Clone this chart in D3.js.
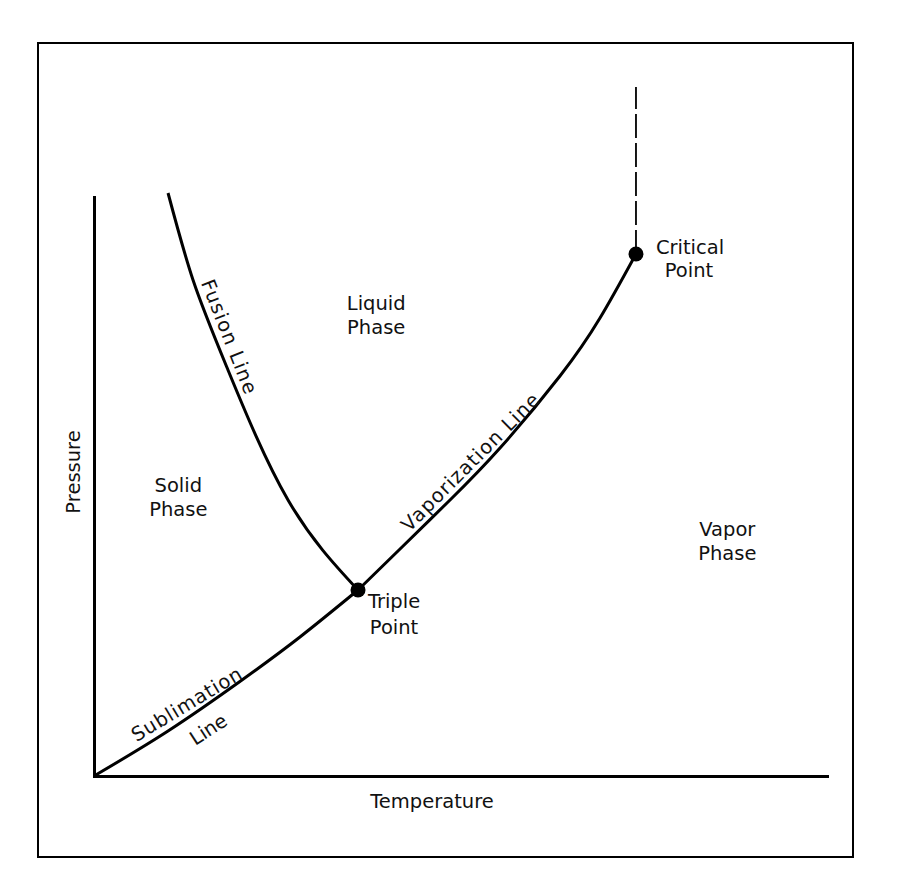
<!DOCTYPE html>
<html>
<head>
<meta charset="utf-8">
<script src="https://cdn.jsdelivr.net/npm/d3@7"></script>
<style>
  html, body { margin: 0; padding: 0; background: #ffffff; }
  svg { display: block; }
  text { font-family: "DejaVu Sans", sans-serif; fill: #111; }
</style>
</head>
<body>
<svg id="chart" width="908" height="882"></svg>
<script>
// ---- Data (arbitrary temperature / pressure units, 0..100 on each axis) ----
const sublimationLine  = [[0, 0], [10.10, 7.77], [20.19, 16.58], [28.10, 24.01], [36.02, 32.12]];
const fusionLine       = [[36.02, 32.12], [26.47, 47.67], [18.28, 70.12], [13.51, 85.66], [10.10, 100.69]];
const vaporizationLine = [[36.02, 32.12], [41.75, 39.21], [48.57, 47.67], [55.39, 56.65], [63.57, 69.08], [69.03, 79.10], [73.94, 90.16]];
const supercriticalLine = [[73.94, 90.16], [73.94, 119.0]];
const specialPoints    = [{name: "Triple Point", T: 36.02, P: 32.12}, {name: "Critical Point", T: 73.94, P: 90.16}];
const phaseLabels      = [
  {lines: ["Liquid", "Phase"], T: 38.5, P: 80.5},
  {lines: ["Solid", "Phase"],  T: 11.5, P: 49.0},
  {lines: ["Vapor", "Phase"],  T: 86.4, P: 41.5}
];
const axisTitles = {x: "Temperature", y: "Pressure"};

// ---- Layout ----
const svg = d3.select("#chart");
const x = d3.scaleLinear().domain([0, 100]).range([94, 827]);
const y = d3.scaleLinear().domain([0, 100]).range([776, 197]);

// outer frame
svg.append("rect").attr("x", 38).attr("y", 43).attr("width", 815).attr("height", 814)
  .attr("fill", "#fff").attr("stroke", "#000").attr("stroke-width", 2);

// axes (domain lines only)
const xAxis = svg.append("g").attr("transform", `translate(0,${y(0)})`)
  .call(d3.axisBottom(x).ticks(0).tickSizeOuter(0));
const yAxis = svg.append("g").attr("transform", `translate(${x(0)},0)`)
  .call(d3.axisLeft(y).ticks(0).tickSizeOuter(0));
[xAxis, yAxis].forEach(g => {
  g.selectAll(".tick").remove();
  g.select(".domain").attr("stroke", "#000").attr("stroke-width", 3).attr("stroke-linecap", "square");
});

// curves
const line = d3.line().x(d => x(d[0])).y(d => y(d[1])).curve(d3.curveNatural);
[sublimationLine, fusionLine, vaporizationLine].forEach(data => {
  svg.append("path").datum(data).attr("d", line)
    .attr("fill", "none").attr("stroke", "#000").attr("stroke-width", 3);
});
svg.append("path").datum(supercriticalLine).attr("d", d3.line().x(d => x(d[0])).y(d => y(d[1])))
  .attr("fill", "none").attr("stroke", "#000").attr("stroke-width", 1.8)
  .attr("stroke-dasharray", "24,5");

// points
svg.selectAll("circle.pt").data(specialPoints).enter().append("circle")
  .attr("class", "pt").attr("cx", d => x(d.T)).attr("cy", d => y(d.P)).attr("r", 7.5).attr("fill", "#000");

const fs = 19.5;
// point labels
const tp = specialPoints[0], cp = specialPoints[1];
const tpLabel = svg.append("text").attr("text-anchor", "middle").attr("font-size", fs);
tpLabel.append("tspan").attr("x", x(tp.T) + 36).attr("y", y(tp.P) + 18).text("Triple");
tpLabel.append("tspan").attr("x", x(tp.T) + 36).attr("y", y(tp.P) + 44).text("Point");
const cpLabel = svg.append("text").attr("text-anchor", "middle").attr("font-size", fs);
cpLabel.append("tspan").attr("x", x(cp.T) + 54).attr("y", y(cp.P) + 0).text("Critical");
cpLabel.append("tspan").attr("x", x(cp.T) + 53).attr("y", y(cp.P) + 23).text("Point");

// phase labels
phaseLabels.forEach(p => {
  const t = svg.append("text").attr("text-anchor", "middle").attr("font-size", fs);
  p.lines.forEach((s, i) => {
    t.append("tspan").attr("x", x(p.T)).attr("y", y(p.P) + i * 24).text(s);
  });
});

// rotated line labels (baseline centre, angle, length)
const rot = [
  {text: "Fusion Line", bx: 223, by: 339, angle: 68.5, len: 121},
  {text: "Vaporization Line", bx: 475, by: 467, angle: -45, len: 186},
  {text: "Sublimation", bx: 190, by: 710, angle: -31, len: 125},
  {text: "Line", bx: 212, by: 735, angle: -33, len: 40}
];
rot.forEach(r => {
  svg.append("text").attr("text-anchor", "middle").attr("font-size", fs)
    .attr("transform", `translate(${r.bx},${r.by}) rotate(${r.angle})`)
    .attr("textLength", r.len).attr("lengthAdjust", "spacing")
    .text(r.text);
});

// axis titles
svg.append("text").attr("text-anchor", "middle").attr("font-size", fs)
  .attr("x", 432).attr("y", 808).text(axisTitles.x);
svg.append("text").attr("text-anchor", "middle").attr("font-size", fs)
  .attr("transform", "translate(80,472) rotate(-90)").text(axisTitles.y);
</script>
</body>
</html>
